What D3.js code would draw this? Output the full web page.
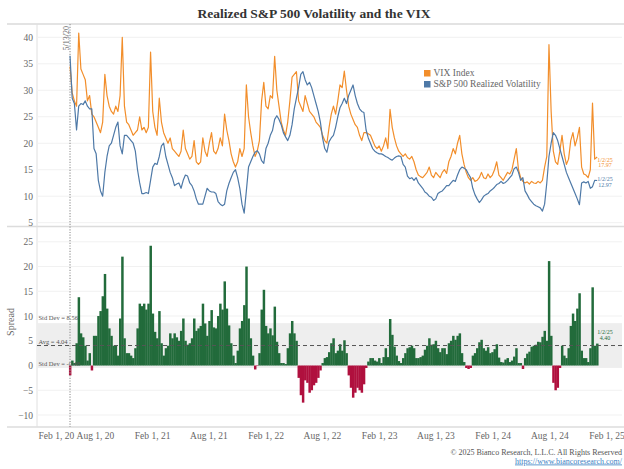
<!DOCTYPE html>
<html><head><meta charset="utf-8">
<script src="https://cdn.jsdelivr.net/npm/d3@7"></script>
<style>body{margin:0;background:#fff} svg text{font-family:'Liberation Serif','Times New Roman',serif}</style>
</head><body><svg id="c" width="624" height="469"></svg>
<script>
// ---- data (weekly samples) ----
const startDate = "2020-05-13";
const endDate = "2025-01-02";
const vix = [34.5,29.5,28,27,40.8,34,33,32,28,29,25.5,25,24,23,22,24,33,29,27,26,25.5,27,26,29,40,27,24,23.5,22.5,21.5,
22,22.5,25,22.5,23,22,23,37.2,26,23,21.5,28.5,24,22,21,20,21,19,18.5,18,17.5,18.5,22.5,19,18,17,17.5,20.5,16.5,16,
16.5,21,18.5,17.5,20,22,18.5,18,19,21,19.5,25.5,22.5,20.5,18,16.5,15.5,16.5,19,17.5,19,31,25,22,19.5,17.5,18.5,20.5,28,31.5,
27,26.5,29,28.5,36.4,30,27,24,22.5,21.5,24,28,32.5,33,33.5,28,27,26,29,27.5,26,25.5,25,24,23.5,23,21.5,20.5,20,23,
25.5,27,25.5,28,31,30.5,33.6,30,27,25.5,24.5,23.5,23,21.5,20.5,22,22,21.8,21.5,20.5,19.5,19,19.5,18.5,19.5,21,19,26.4,23,21,
19.5,18.5,18,17.5,18,17.3,17,17.5,16.5,15,14,13.7,13.5,14,14.5,15.5,14,13.5,14.5,14,13.5,14.5,15,14.3,16.5,17.5,19,18,20,21.5,
18,16,14.5,13.5,13,13.5,12.8,13,13.5,14.5,13.5,13.3,14.2,13.5,14,15,16.5,14,13.5,13,13.8,14.5,14.2,15,17,19,15,13.5,12.8,12.5,
12.7,12.3,12.8,12.5,12.4,12.8,12.5,13,15.5,17.5,38.6,26,18.5,16.5,16,18.5,21.5,18,16,17,20.5,22,19.5,21,23,15.5,14.2,14,13.5,15,
27.6,17,17.4];
const realized = [36.5,28.5,27.5,22.5,27,27.5,27.3,28,27,26.5,26.5,19,18,13,11,10,14.5,17.5,19.5,20,21.5,23,24,19.5,18,21.5,21.5,21,20.5,20,
18.5,15,12.5,10.5,10.5,10.7,10.5,13,15.5,16.2,16,17.5,19.5,20,17.5,16,14.5,13.5,12,12.3,12.5,11.5,13,14,13.8,12.5,12,11,9.5,8.5,
8.5,8.5,10,11.5,11,10.8,10.8,10.5,9,8.5,8.2,8.5,11,12.4,13.5,14.5,15,13.5,11.5,8.5,6.8,11,15.5,16.5,17.5,18.3,18.6,18,16.7,16.2,
19,20,21.5,22.4,24.5,25.2,24.5,23.5,22,21.2,20.5,21.5,23.5,26.5,28.5,30.5,33,33.5,32,31,31.5,30.5,29,27.5,26,24,21,19,18.3,20.3,
21,21.5,23,25,26.7,27.5,28.5,27.5,29,30,31,29,27.5,26.5,26,25.8,22.5,21,20,19,18.5,18.2,18,18,17.8,17.5,17.3,17,16.8,17.2,
17.5,17.6,17.5,16,15.5,13.8,13.3,13.5,13,13.5,12.5,12,11.5,10.8,10.5,10,9.8,9.2,9.5,10.5,10.8,11,11.5,12,12,12.5,13,12.8,14,15,
15.5,15.3,15,14.2,13.5,11.5,10.3,9.5,8.8,9.3,10,10.3,10.5,11,11.3,11.7,12.2,12.4,12.8,12.4,12.6,13,13.5,14,15.2,15.5,14.5,13,13.5,11,
10.3,9.5,9,8.5,8.2,8,7.8,7.2,8.5,12.5,17.5,20,22,21.5,20.5,19,17.5,16,14.5,13.5,12.5,11.5,10.5,9.5,8.4,12.5,12.7,12.5,12.8,11.5,
11.8,13,12.97];
const topTicks = [5,10,15,20,25,30,35,40];
const spreadTicks = [-10,-5,0,5,10,15,20,25];
const xTickDates = ["2020-02-01","2020-08-01","2021-02-01","2021-08-01","2022-02-01","2022-08-01","2023-02-01","2023-08-01","2024-02-01","2024-08-01","2025-02-01"];
const spreadStats = [8.56, 4.04, -0.48]; // +1 sd, avg, -1 sd
const endLabels = ["17.97","12.97","4.40"];
const markerDate = "2020-05-13";

// ---- setup ----
const parse = d3.timeParse("%Y-%m-%d");
const t0 = parse(startDate);
const dates = vix.map((v,i)=> i===vix.length-1 ? parse(endDate) : d3.timeDay.offset(t0, 7*i));
const data = dates.map((d,i)=>({date:d, vix:vix[i], rv:realized[i], spread:vix[i]-realized[i]}));

const svg = d3.select("#c");
const L = 37, R = 622;
const x = d3.scaleTime().domain([parse("2020-02-01"), parse("2025-02-01")]).range([38.3, 606.5]);
const yT = d3.scaleLinear().domain([5,40]).range([222.7,37.3]);
const yS = d3.scaleLinear().domain([-10,25]).range([415,241.8]);
const gray = "#666";

// title
svg.append("text").attr("x",314).attr("y",18).attr("text-anchor","middle")
  .attr("font-size",13.5).attr("font-weight","bold").attr("fill","#333")
  .text("Realized S&P 500 Volatility and the VIX");

// frames
svg.append("line").attr("x1",L-30).attr("x2",R+2).attr("y1",24).attr("y2",24).attr("stroke","#e3e3e3").attr("stroke-width",2);
svg.append("line").attr("x1",L-30).attr("x2",R+2).attr("y1",226.5).attr("y2",226.5).attr("stroke","#dcdcdc").attr("stroke-width",1.5);
svg.append("line").attr("x1",L-30).attr("x2",R+2).attr("y1",427).attr("y2",427).attr("stroke","#dcdcdc").attr("stroke-width",1.5);
svg.append("line").attr("x1",L).attr("x2",L).attr("y1",24).attr("y2",427).attr("stroke","#e0e0e0").attr("stroke-width",1);

// gridlines
svg.append("g").selectAll("line").data(topTicks).join("line")
  .attr("x1",L).attr("x2",R).attr("y1",d=>yT(d)).attr("y2",d=>yT(d)).attr("stroke","#f1f1f1");
svg.append("g").selectAll("line").data(spreadTicks).join("line")
  .attr("x1",L).attr("x2",R).attr("y1",d=>yS(d)).attr("y2",d=>yS(d)).attr("stroke","#f1f1f1");

// y axes
const yAxT = d3.axisLeft(yT).tickValues(topTicks).tickSize(0).tickPadding(4);
const gT = svg.append("g").attr("transform",`translate(${L},0)`).call(yAxT);
const yAxS = d3.axisLeft(yS).tickValues(spreadTicks).tickSize(0).tickPadding(4);
const gS = svg.append("g").attr("transform",`translate(${L},0)`).call(yAxS);
[gT,gS].forEach(g=>{g.select(".domain").remove(); g.selectAll("text").attr("font-size",9.5).attr("fill",gray).attr("font-family","'Liberation Serif',serif");});

// x axis
const xAx = d3.axisBottom(x).tickValues(xTickDates.map(parse)).tickSize(0).tickPadding(0).tickFormat(d3.timeFormat("%b %-d, %y"));
const gX = svg.append("g").attr("transform","translate(0,432)").call(xAx);
gX.select(".domain").remove();
gX.selectAll("text").attr("font-size",9.5).attr("fill",gray).attr("font-family","'Liberation Serif',serif").attr("dy","0.71em");
gX.selectAll(".tick").filter((d,i)=>i===0).select("text").attr("text-anchor","start").attr("x",L+1-x(parse(xTickDates[0])));

// Spread label
svg.append("text").attr("transform","translate(14,322) rotate(-90)").attr("text-anchor","middle")
  .attr("font-size",10).attr("fill",gray).text("Spread");

// band and bars
svg.append("rect").attr("x",L).attr("width",R-L).attr("y",yS(spreadStats[0])).attr("height",yS(spreadStats[2])-yS(spreadStats[0])).attr("fill","#eeeeee");
const bw = (x(dates[1])-x(dates[0]));
svg.append("g").selectAll("rect").data(data).join("rect")
  .attr("x",d=>x(d.date)-bw/2).attr("width",bw+0.3)
  .attr("y",d=>yS(Math.max(0,d.spread))).attr("height",d=>Math.abs(yS(0)-yS(d.spread)))
  .attr("fill",d=>d.spread>=0?"#226b3b":"#b0103e");
svg.append("line").attr("x1",L).attr("x2",R).attr("y1",yS(spreadStats[1])).attr("y2",yS(spreadStats[1]))
  .attr("stroke","#555").attr("stroke-dasharray","4,3").attr("stroke-width",1);
const statLab = [["Std Dev = "+spreadStats[0], yS(spreadStats[0])-3],["Avg = "+spreadStats[1], yS(spreadStats[1])-2],["Std Dev = "+spreadStats[2], yS(spreadStats[2])-1.5]];
svg.append("g").selectAll("text").data(statLab).join("text").attr("x",L+1.5).attr("y",d=>d[1])
  .attr("font-size",6.5).attr("fill","#555").text(d=>d[0]);

// marker line
const mx = x(parse(markerDate));
svg.append("line").attr("x1",mx).attr("x2",mx).attr("y1",24).attr("y2",427).attr("stroke","#999").attr("stroke-dasharray","1.2,1.5").attr("stroke-width",1.2);
svg.append("text").attr("transform",`translate(${mx-1.5},26) rotate(-90)`).attr("text-anchor","end")
  .attr("font-size",8).attr("fill",gray).text("5/13/20");

// lines
const lineV = d3.line().x(d=>x(d.date)).y(d=>yT(d.vix));
const lineR = d3.line().x(d=>x(d.date)).y(d=>yT(d.rv));
svg.append("path").datum(data).attr("d",lineV).attr("fill","none").attr("stroke","#f28e2b").attr("stroke-width",1.2).attr("stroke-linejoin","round");
svg.append("path").datum(data).attr("d",lineR).attr("fill","none").attr("stroke","#4e79a7").attr("stroke-width",1.2).attr("stroke-linejoin","round");

// legend
const leg = [["VIX Index","#f28e2b"],["S&P 500 Realized Volatility","#4e79a7"]];
const lg = svg.append("g").selectAll("g").data(leg).join("g").attr("transform",(d,i)=>`translate(424,${70+i*11})`);
lg.append("rect").attr("width",6.5).attr("height",6.5).attr("fill",d=>d[1]);
lg.append("text").attr("x",9.5).attr("y",6.3).attr("font-size",9.5).attr("fill",gray).text(d=>d[0]);

// end labels
const lx = 605;
const endL = [[endLabels[0],"#f28e2b",161.5],[endLabels[1],"#4e79a7",181],[endLabels[2],"#226b3b",334.3]];
endL.forEach(e=>{
  svg.append("text").attr("x",lx).attr("y",e[2]).attr("text-anchor","middle").attr("font-size",6).attr("fill",e[1]).text("1/2/25");
  svg.append("text").attr("x",lx).attr("y",e[2]+5.6).attr("text-anchor","middle").attr("font-size",6).attr("fill",e[1]).text(e[0]);
});

// footer
svg.append("text").attr("x",622).attr("y",455).attr("text-anchor","end").attr("font-size",8).attr("fill","#555")
  .text("\u00a9 2025 Bianco Research, L.L.C. All Rights Reserved");
svg.append("text").attr("x",622).attr("y",463.5).attr("text-anchor","end").attr("font-size",8).attr("fill","#3b82c4")
  .attr("text-decoration","underline").text("https://www.biancoresearch.com/");
</script></body></html>
